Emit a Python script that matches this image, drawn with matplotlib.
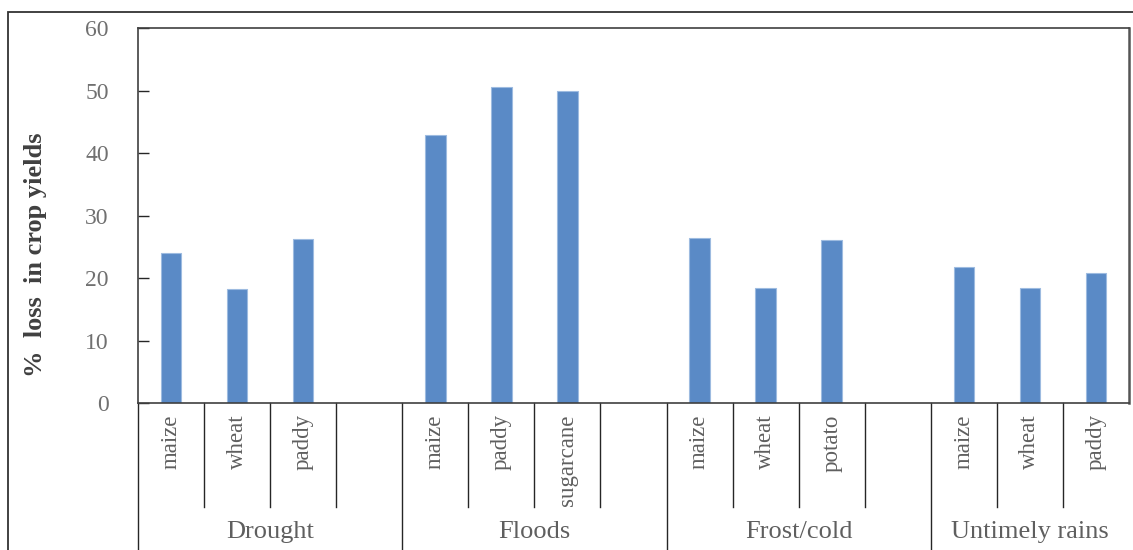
import matplotlib
matplotlib.use("Agg")
import matplotlib.pyplot as plt
from matplotlib.patches import Rectangle
import numpy as np

# ====================== data ======================
groups = ["Drought", "Floods", "Frost/cold", "Untimely rains"]
crops_drought = ["maize", "wheat", "paddy", ""]
crops_floods = ["maize", "paddy", "sugarcane", ""]
crops_frost = ["maize", "wheat", "potato", ""]
crops_rains = ["maize", "wheat", "paddy"]
loss_drought = [24.0, 18.2, 26.2, None]
loss_floods = [42.9, 50.6, 49.9, None]
loss_frost = [26.4, 18.4, 26.1, None]
loss_rains = [21.8, 18.4, 20.8]
y_ticks = [0, 10, 20, 30, 40, 50, 60]

group_crops = [crops_drought, crops_floods, crops_frost, crops_rains]
group_loss = [loss_drought, loss_floods, loss_frost, loss_rains]

labels = [c for g in group_crops for c in g]
values = [v for g in group_loss for v in g]
n_slots = len(labels)
xpos = np.arange(n_slots)

bar_color = "#5a8ac6"
text_gray = "#5f5f5f"
line_col = "#262626"
serif = ["Liberation Serif", "DejaVu Serif"]

# ====================== figure ======================
fig = plt.figure(figsize=(11.33, 5.5), dpi=100)
ax = fig.add_axes([138 / 1133, 1 - 403 / 550, (1129 - 138) / 1133, (403 - 28) / 550])

bx = [x for x, v in zip(xpos, values) if v is not None]
bv = [v for v in values if v is not None]
ax.bar(bx, bv, width=0.31, color=bar_color, edgecolor="#9dbbe0", linewidth=0.8, zorder=2)

ax.set_xlim(-0.5, n_slots - 0.5)
ax.set_ylim(0, 60)
ax.set_yticks(y_ticks)
ax.set_yticklabels([str(t) for t in y_ticks], family=serif, fontsize=17, color="#707070")
# ticks point into the plot like the original
ax.tick_params(axis="y", which="both", direction="in", length=8, width=1,
               color=line_col, pad=21)
ax.set_xticks([])
for s in ax.spines.values():
    s.set_color("#404040")
    s.set_linewidth(1.2)
ax.spines["right"].set_linewidth(1.8)
ax.spines["right"].set_color("#555555")

# multi-level category axis (crop names + hazard groups)
tr = ax.get_xaxis_transform()
edge = -0.5
for gi, crops in enumerate(group_crops):
    start = edge
    ax.plot([start, start], [0, -0.5], color=line_col, lw=1, transform=tr, clip_on=False)
    for k, c in enumerate(crops):
        x = start + k + 0.5
        if k > 0:
            ax.plot([start + k, start + k], [0, -0.277], color=line_col, lw=1,
                    transform=tr, clip_on=False)
        if c:
            ax.text(x, -0.03, c, rotation=90, ha="center", va="top", transform=tr,
                    family=serif, fontsize=16.5, color=text_gray)
    edge = start + len(crops)
    ax.text((start + edge) / 2, -0.344, groups[gi], ha="center", va="center",
            transform=tr, family=serif, fontsize=19, color=text_gray)

fig.text(0.031, 1 - 255 / 550, "%  loss  in crop yields", rotation=90, ha="center",
         va="center", family=serif, fontsize=19, fontweight="bold", color="#404040")

# outer chart frame
fig.add_artist(Rectangle((8 / 1133, -0.1), 1.2, 1.1 - 12 / 550, transform=fig.transFigure,
                         fill=False, lw=1.3, ec="#333333"))

fig.savefig("out.png", dpi=100)
